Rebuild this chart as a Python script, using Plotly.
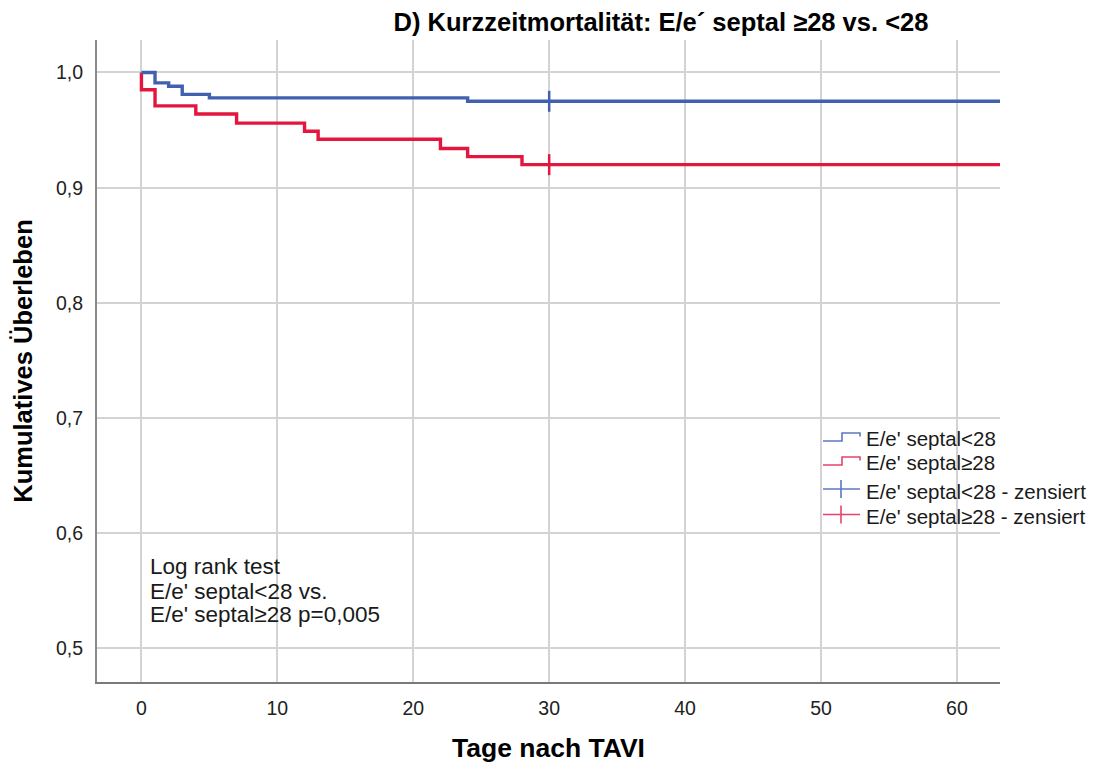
import plotly.graph_objects as go

# Kaplan-Meier estimates (days after TAVI, cumulative survival)
days_lo = [0, 1, 2, 3, 5, 24, 63.2]
surv_lo = [1.0, 0.991, 0.988, 0.981, 0.978, 0.975, 0.975]

days_hi = [0, 0, 1, 4, 7, 12, 13, 22, 24, 28, 63.2]
surv_hi = [1.0, 0.985, 0.971, 0.964, 0.956, 0.949, 0.942, 0.934, 0.927, 0.920, 0.920]

# censored observations
cens_lo_day = [30]
cens_lo_surv = [0.975]
cens_hi_day = [30]
cens_hi_surv = [0.920]

x_ticks = [0, 10, 20, 30, 40, 50, 60]
y_ticks = [0.5, 0.6, 0.7, 0.8, 0.9, 1.0]

legend_labels = ["E/e' septal<28", "E/e' septal≥28",
                 "E/e' septal<28 - zensiert", "E/e' septal≥28 - zensiert"]
logrank_lines = ["Log rank test", "E/e' septal<28 vs.", "E/e' septal≥28 p=0,005"]

BLUE = "#4160AE"
RED = "#E3173E"
BLUE_L = "#5B78C0"
RED_L = "#E8436A"
FONT = "Liberation Sans, Arial, sans-serif"

W, H = 1097, 769
L, R, T, B = 97, 97, 40, 87
PW, PH = W - L - R, H - T - B


def px(xp):
    return (xp - L) / PW


def py(yp):
    return (H - B - yp) / PH


fig = go.Figure()

fig.add_trace(go.Scatter(x=days_hi, y=surv_hi, mode="lines", line_shape="hv",
                         line=dict(color=RED, width=3.4), showlegend=False))
fig.add_trace(go.Scatter(x=days_lo, y=surv_lo, mode="lines", line_shape="hv",
                         line=dict(color=BLUE, width=3.4), showlegend=False))
fig.add_trace(go.Scatter(x=cens_lo_day, y=cens_lo_surv, mode="markers",
                         marker=dict(symbol="line-ns", size=15,
                                     line=dict(color=BLUE, width=2.5)),
                         showlegend=False))
fig.add_trace(go.Scatter(x=cens_hi_day, y=cens_hi_surv, mode="markers",
                         marker=dict(symbol="line-ns", size=15,
                                     line=dict(color=RED, width=2.5)),
                         showlegend=False))

shapes = []
# white panel behind the log-rank text
shapes.append(dict(type="rect", xref="paper", yref="paper", layer="between",
                   x0=px(146), x1=px(420), y0=py(637), y1=py(536),
                   fillcolor="white", line=dict(width=0)))

# legend icons
rows = [438.5, 462.5, 491, 516.5]
for i, (yc, col) in enumerate(zip(rows[:2], [BLUE_L, RED_L])):
    lo, hi, mid = yc + 2.5, yc - 5.5, yc - 2
    path = (f"M {px(823)},{py(lo)} L {px(842)},{py(lo)} L {px(842)},{py(hi)} "
            f"L {px(860)},{py(hi)} L {px(860)},{py(mid)}")
    shapes.append(dict(type="path", xref="paper", yref="paper", path=path,
                       line=dict(color=col, width=1.6)))
for yc, col in zip(rows[2:], [BLUE_L, RED_L]):
    shapes.append(dict(type="line", xref="paper", yref="paper",
                       x0=px(823), x1=px(860), y0=py(yc - 2), y1=py(yc - 2),
                       line=dict(color=col, width=1.6)))
    shapes.append(dict(type="line", xref="paper", yref="paper",
                       x0=px(841), x1=px(841), y0=py(yc - 11), y1=py(yc + 7),
                       line=dict(color=col, width=1.6)))

annotations = []
for yc, txt in zip(rows, legend_labels):
    annotations.append(dict(x=px(864), y=py(yc), xref="paper", yref="paper",
                            text=txt, showarrow=False, xanchor="left",
                            yanchor="middle",
                            font=dict(family=FONT, size=20.5, color="#1a1a1a")))
for yc, txt in zip([566, 591, 614.5], logrank_lines):
    annotations.append(dict(x=px(148), y=py(yc), xref="paper", yref="paper",
                            text=txt, showarrow=False, xanchor="left",
                            yanchor="middle",
                            font=dict(family=FONT, size=22.5, color="#1a1a1a")))

fig.update_layout(
    width=W, height=H,
    margin=dict(l=L, r=R, t=T, b=B),
    paper_bgcolor="white", plot_bgcolor="white",
    separators=",.",
    title=dict(text="D) Kurzzeitmortalität: E/e´ septal ≥28 vs. <28",
               xref="container", x=661 / W, xanchor="center",
               yref="container", y=1 - 22 / H, yanchor="middle",
               font=dict(family=FONT, size=25.5, color="black", weight="bold")),
    shapes=shapes,
    annotations=annotations,
    showlegend=False,
)

fig.update_xaxes(
    range=[-3.27, 63.17], tickvals=x_ticks, ticks="", showline=True,
    linecolor="#7a7a7a", linewidth=2, mirror=False, zeroline=False,
    showgrid=True, gridcolor="#d3d3d3", gridwidth=1.5,
    tickfont=dict(family=FONT, size=19.5, color="#222"),
    ticklabelstandoff=8,
    title=dict(text="Tage nach TAVI", standoff=20,
               font=dict(family=FONT, size=26.5, color="black", weight="bold")),
)
fig.update_yaxes(
    range=[0.4709, 1.0282], tickvals=y_ticks, tickformat=".1f", ticks="",
    showline=True, linecolor="#8a8a8a", linewidth=2, mirror=False,
    zeroline=False, showgrid=True, gridcolor="#d3d3d3", gridwidth=1.5,
    tickfont=dict(family=FONT, size=19.5, color="#222"),
    ticklabelstandoff=8,
    title=dict(text="Kumulatives Überleben", standoff=16,
               font=dict(family=FONT, size=25.5, color="black", weight="bold")),
)

fig.write_html("out.html")
